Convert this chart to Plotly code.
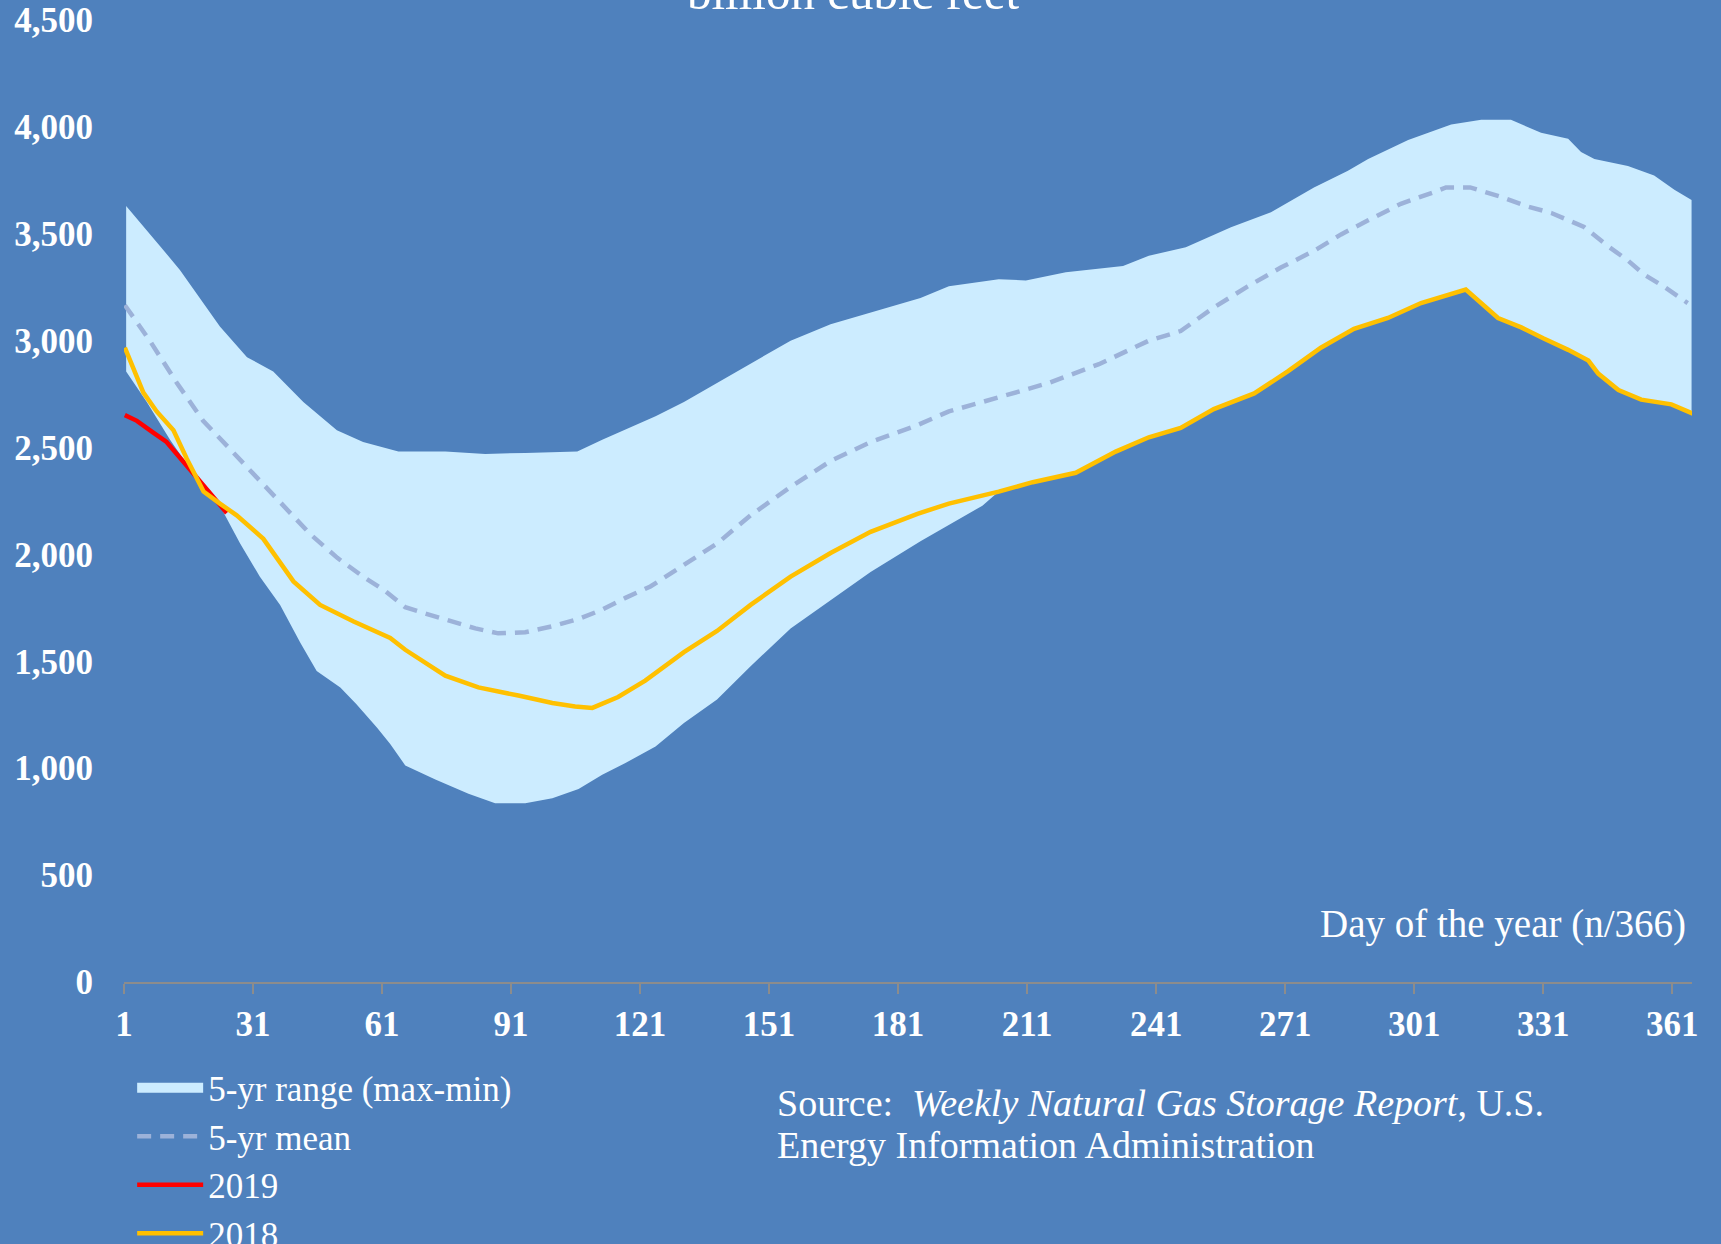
import plotly.graph_objects as go

# ---------------- data ----------------
x_tick_vals = [1, 31, 61, 91, 121, 151, 181, 211, 241, 271, 301, 331, 361]

range_hi_days = [1.5, 4.7, 9.4, 14, 17.9, 23.3, 29.6, 35.7, 42.7, 50.5, 56.6, 62.9, 64.8,
                 75.7, 85, 94.3, 106.4, 112.2, 118.3, 124.6, 131.2, 138.9, 146.7, 156,
                 165.3, 174.6, 186.2, 192.8, 204.4, 210.7, 220, 233.3, 239.3, 247.9,
                 258.4, 267.7, 277.7, 285.6, 290.3, 299.6, 309.6, 316.6, 323.5, 330.5,
                 336.8, 339.8, 342.9, 350.7, 356.8, 361.5, 365.5]
range_hi = [3630, 3552, 3442, 3331, 3221, 3066, 2923, 2856, 2713, 2581, 2526, 2492, 2481,
            2481, 2470, 2475, 2481, 2536, 2592, 2647, 2713, 2802, 2890, 3000,
            3077, 3132, 3199, 3254, 3287, 3282, 3320, 3349, 3397, 3437,
            3530, 3601, 3717, 3795, 3850, 3939, 4011, 4033, 4033, 3972,
            3945, 3883, 3850, 3817, 3773, 3706, 3658]

range_lo_days = [1.5, 6.3, 11.7, 17, 23.3, 28, 32.6, 37.3, 42, 45.8, 51.3, 55, 59.8, 62.9,
                 66.4, 73.4, 81.1, 87.3, 94.3, 100.6, 106.7, 112.2, 117.6, 124.6, 131.2,
                 138.9, 146.7, 156, 165.3, 174.6, 186.2, 192.8, 200.6, 204.4, 212.3,
                 222.3, 231.6, 239.3, 246.7, 254.4, 263.8, 271.6, 279.3, 287, 294.9,
                 302.6, 309.6, 313, 320.5, 325.9, 331, 336.8, 341.5, 343.8, 348.5,
                 353.8, 360.8, 365.5]
range_lo = [2856, 2713, 2536, 2382, 2228, 2051, 1896, 1764, 1587, 1455, 1378, 1300, 1190, 1113,
            1013, 947, 881, 836, 836, 859, 903, 969, 1024, 1102, 1212,
            1322, 1477, 1654, 1786, 1918, 2062, 2139, 2228, 2294, 2338,
            2382, 2481, 2548, 2592, 2680, 2753, 2856, 2967, 3055, 3106,
            3176, 3221, 3239, 3106, 3062, 3011, 2957, 2907, 2846, 2769,
            2724, 2702, 2665]

mean_days = [1.2, 7, 13.3, 19.4, 25.7, 32, 38, 44.3, 50.6, 56.6, 61.7, 66.4, 71.7, 77.3,
             82.7, 88, 94.3, 100.6, 106.7, 112.2, 117.6, 123.4, 131.2, 138.9, 146.7, 156,
             165.3, 174.6, 185.5, 192.8, 204.4, 216, 227.7, 239.3, 246.7, 254.4, 262.3,
             270, 277.7, 284, 290.3, 297.9, 305.6, 308.4, 314, 321, 327, 332.9, 340.5,
             346, 350.7, 354.5, 359, 364.6]
mean_5yr = [3166, 3000, 2802, 2625, 2492, 2360, 2228, 2095, 1984, 1896, 1830, 1753, 1720, 1686,
            1654, 1631, 1636, 1664, 1698, 1742, 1797, 1850, 1952, 2051, 2183, 2316,
            2437, 2526, 2605, 2669, 2735, 2802, 2890, 3000, 3045, 3155, 3254,
            3342, 3420, 3497, 3563, 3640, 3695, 3717, 3717, 3674, 3630, 3597, 3532,
            3443, 3375, 3309, 3254, 3176]

days_2019 = [1.2, 4, 7.8, 10.9, 15.6, 20.2, 24.9]
vals_2019 = [2652, 2625, 2570, 2526, 2415, 2305, 2194]

days_2018 = [1.2, 5.5, 8.6, 12.5, 15.6, 19.5, 23.3, 27.2, 33.4, 40.4, 46.6, 54.4, 62.9, 66.4,
             75.7, 83.4, 92.7, 100.6, 105.9, 109.9, 115.9, 122.2, 131.2, 138.9, 146.7, 156,
             165.3, 174.6, 185.5, 192.8, 204.4, 212.3, 222.3, 231.6, 239.3, 246.7, 254.4,
             263.8, 271.6, 279.3, 287, 294.9, 302.6, 309.6, 313, 320.5, 325.9, 331, 336.8,
             341.5, 343.8, 348.5, 353.8, 360.8, 365.9]
vals_2018 = [2967, 2757, 2669, 2581, 2448, 2294, 2238, 2183, 2073, 1874, 1764, 1686, 1609, 1554,
             1433, 1378, 1340, 1305, 1289, 1282, 1333, 1410, 1543, 1642, 1764, 1896,
             2007, 2106, 2190, 2238, 2294, 2338, 2382, 2481, 2548, 2592, 2680,
             2753, 2856, 2967, 3055, 3106, 3176, 3221, 3239, 3106, 3062, 3011, 2957,
             2907, 2846, 2769, 2724, 2702, 2658]

# ---------------- styling ----------------
BG = "#4F81BD"
FONT = "Liberation Serif"
WHITE = "#FFFFFF"
RANGE_COLOR = "#CCECFF"

fig = go.Figure()

# 5-yr range band (max on top, min reversed underneath)
fig.add_trace(go.Scatter(
    x=range_hi_days + range_lo_days[::-1],
    y=range_hi + range_lo[::-1],
    fill="toself", fillcolor=RANGE_COLOR,
    line=dict(width=0, color=RANGE_COLOR),
    mode="lines", name="5-yr range (max-min)", hoverinfo="skip",
    showlegend=False, legendgroup="range",
))
# legend swatch for the band (thick bar, like the reference key)
fig.add_trace(go.Scatter(
    x=[None], y=[None], mode="lines", name="5-yr range (max-min)",
    line=dict(color=RANGE_COLOR, width=18), legendgroup="range",
))
fig.add_trace(go.Scatter(
    x=mean_days, y=mean_5yr, mode="lines", name="5-yr mean",
    line=dict(color="#9CB2D9", width=4.5, dash="14px,9px"),
))
fig.add_trace(go.Scatter(
    x=days_2019, y=vals_2019, mode="lines", name="2019",
    line=dict(color="#FF0000", width=4.5),
))
fig.add_trace(go.Scatter(
    x=days_2018, y=vals_2018, mode="lines", name="2018",
    line=dict(color="#FFC000", width=4.5),
))

fig.update_layout(
    width=1721, height=1244,
    paper_bgcolor=BG, plot_bgcolor=BG,
    margin=dict(l=124, r=29, t=20, b=262, autoexpand=False),
    font=dict(family=FONT, color=WHITE, size=34),
    showlegend=True,
    legend=dict(
        x=0.0052, xanchor="left", y=-0.0795, yanchor="top",
        bgcolor="rgba(0,0,0,0)", font=dict(family=FONT, size=35, color=WHITE),
        itemwidth=66, tracegroupgap=0,
    ),
    xaxis=dict(
        range=[1, 365.6], tickmode="array", tickvals=x_tick_vals,
        ticktext=[str(v) for v in x_tick_vals],
        ticks="outside", ticklen=10, tickcolor="#8C8C8C", tickwidth=1.5,
        showline=True, linecolor="#8C8C8C", linewidth=2,
        showgrid=False, zeroline=False,
        tickfont=dict(family=FONT, size=35, color=WHITE, weight="bold"),
        ticklabelstandoff=0,
    ),
    yaxis=dict(
        range=[0, 4500], dtick=500, tick0=0, tickformat=",d",
        showgrid=False, showline=False, zeroline=False, ticks="",
        tickfont=dict(family=FONT, size=35, color=WHITE, weight="bold"),
        ticklabelstandoff=30,
    ),
    annotations=[
        dict(text="billion cubic feet", xref="paper", yref="paper",
             x=0.465, y=0.998, xanchor="center", yanchor="bottom", showarrow=False,
             font=dict(family=FONT, size=49, color=WHITE)),
        dict(text="Day of the year (n/366)", xref="paper", yref="paper",
             x=0.9975, y=0.060, xanchor="right", yanchor="middle", showarrow=False,
             font=dict(family=FONT, size=39, color=WHITE)),
        dict(text="Source:\u00a0 <i>Weekly Natural Gas Storage Report</i>, U.S.",
             xref="paper", yref="paper", x=0.4152, y=-0.1258, xanchor="left", yanchor="middle",
             align="left", showarrow=False,
             font=dict(family=FONT, size=38, color=WHITE)),
        dict(text="Energy Information Administration",
             xref="paper", yref="paper", x=0.4152, y=-0.1694, xanchor="left", yanchor="middle",
             align="left", showarrow=False,
             font=dict(family=FONT, size=38, color=WHITE)),
    ],
)

fig.write_html("out.html", config={"displayModeBar": False},
               post_script="document.body.style.margin='0px';")
